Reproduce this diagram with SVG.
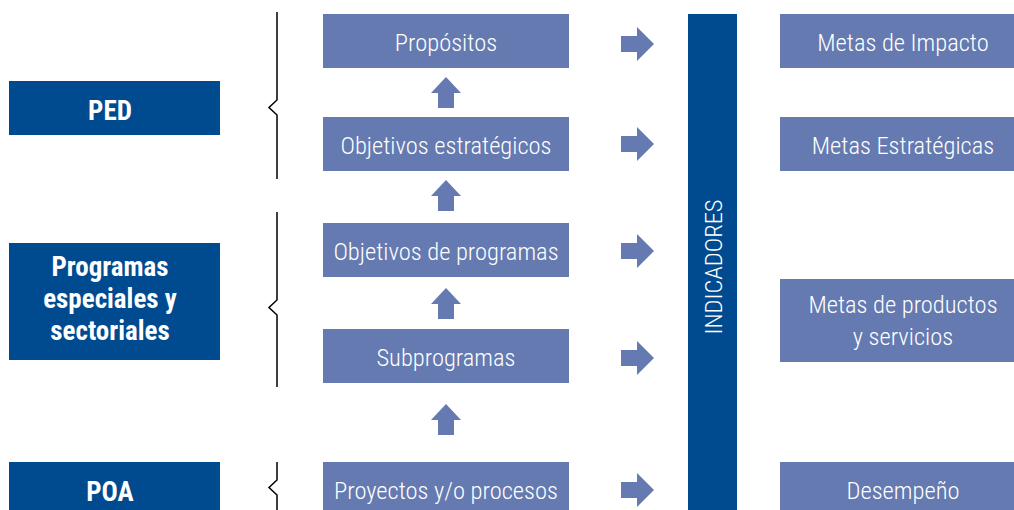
<svg xmlns="http://www.w3.org/2000/svg" width="1014" height="510" viewBox="0 0 1014 510">
<style>
.lb{fill:#647ab0}
.db{fill:#004a8f}
.t{font-family:"Roboto Condensed","Liberation Sans Narrow","DejaVu Sans Condensed",sans-serif;font-size:24.5px;fill:#fff;text-anchor:middle;font-weight:300}
.tb{font-family:"Roboto Condensed","Liberation Sans Narrow","DejaVu Sans Condensed",sans-serif;font-size:27px;fill:#fff;text-anchor:middle;font-weight:bold}
.br{fill:none;stroke:#000;stroke-width:1.5}
.ar{fill:#647ab0}
</style>
<defs>
<polygon id="up" points="0,-15 15,1 8,1 8,16 -8,16 -8,1 -15,1"/>
<polygon id="rt" points="-16,-8 0,-8 0,-17 17,0 0,17 0,8 -16,8"/>
</defs>
<g id="left">
<g id="ped"><rect class="db" x="9" y="81" width="211" height="54"/><text class="tb" x="110" y="120">PED</text></g>
<g id="prog"><rect class="db" x="9" y="243" width="211" height="117"/><text class="tb" x="110" y="276">Programas</text><text class="tb" x="110" y="308">especiales y</text><text class="tb" x="110" y="340">sectoriales</text></g>
<g id="poa"><rect class="db" x="9" y="462" width="211" height="48"/><text class="tb" x="110" y="501">POA</text></g>
</g>
<g id="braces">
<path class="br" d="M277,12 V100 L269,107.5 L277,115 V179"/>
<path class="br" d="M277,212 V300 L269,307.5 L277,315 V387"/>
<path class="br" d="M277,462 V480 L269,487.5 L277,495 V510"/>
</g>
<g id="center">
<g id="n1"><rect class="lb" x="323" y="14" width="246" height="54"/><text class="t" x="446" y="51">Propósitos</text></g>
<g id="n2"><rect class="lb" x="323" y="117" width="246" height="54"/><text class="t" x="446" y="154">Objetivos estratégicos</text></g>
<g id="n3"><rect class="lb" x="323" y="223" width="246" height="54"/><text class="t" x="446" y="260">Objetivos de programas</text></g>
<g id="n4"><rect class="lb" x="323" y="329" width="246" height="54"/><text class="t" x="446" y="366">Subprogramas</text></g>
<g id="n5"><rect class="lb" x="323" y="462" width="246" height="48"/><text class="t" x="446" y="499">Proyectos y/o procesos</text></g>
</g>
<g id="connectors">
<use href="#up" class="ar" x="446" y="92"/>
<use href="#up" class="ar" x="446" y="195"/>
<use href="#up" class="ar" x="446" y="303"/>
<use href="#up" class="ar" x="446" y="419"/>
<use href="#rt" class="ar" x="637" y="44"/>
<use href="#rt" class="ar" x="637" y="144"/>
<use href="#rt" class="ar" x="637" y="251"/>
<use href="#rt" class="ar" x="637" y="358"/>
<use href="#rt" class="ar" x="637" y="490"/>
</g>
<g id="indicadores"><rect class="db" x="688" y="14" width="49" height="496"/><text class="t" transform="translate(722,267) rotate(-90)" x="0" y="0">INDICADORES</text></g>
<g id="right">
<g id="m1"><rect class="lb" x="780" y="14" width="234" height="54"/><text class="t" x="903" y="51">Metas de Impacto</text></g>
<g id="m2"><rect class="lb" x="780" y="117" width="234" height="54"/><text class="t" x="903" y="154">Metas Estratégicas</text></g>
<g id="m3"><rect class="lb" x="780" y="279" width="234" height="83"/><text class="t" x="903" y="313">Metas de productos</text><text class="t" x="903" y="345">y servicios</text></g>
<g id="m4"><rect class="lb" x="780" y="462" width="234" height="48"/><text class="t" x="903" y="499">Desempeño</text></g>
</g>
</svg>
